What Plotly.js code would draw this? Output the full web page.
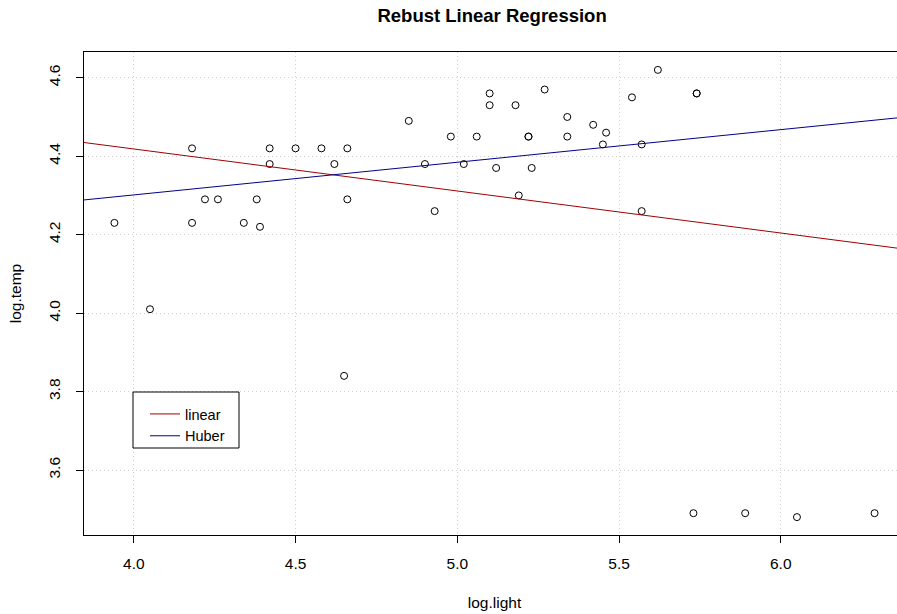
<!DOCTYPE html>
<html>
<head>
<meta charset="utf-8">
<script src="https://cdn.plot.ly/plotly-3.0.1.min.js"></script>
<style>
html,body{margin:0;padding:0;overflow:hidden;background:#fff;width:897px;height:614px;}
#chart{width:925px;height:614px;}
</style>
</head>
<body>
<div id="chart"></div>
<script>
// starsCYG data
const logLight = [5.23,5.74,4.93,5.74,5.19,5.46,4.65,5.27,5.57,5.12,5.73,5.45,5.42,4.05,4.26,4.58,3.94,4.18,4.18,5.89,4.38,4.22,4.42,4.85,5.02,4.66,4.66,4.90,4.39,6.05,4.42,5.10,5.22,6.29,4.34,5.62,5.10,5.22,5.18,5.57,4.62,5.06,5.34,5.34,5.54,4.98,4.50];
const logTemp  = [4.37,4.56,4.26,4.56,4.30,4.46,3.84,4.57,4.26,4.37,3.49,4.43,4.48,4.01,4.29,4.42,4.23,4.42,4.23,3.49,4.29,4.29,4.42,4.49,4.38,4.42,4.29,4.38,4.22,3.48,4.38,4.56,4.45,3.49,4.23,4.62,4.53,4.45,4.53,4.43,4.38,4.45,4.50,4.45,4.55,4.45,4.42];
const seriesNames = ["linear","Huber"];
// Huber fit coefficients [intercept, slope]
const huberCoef = [3.9685, 0.0832];
const xTicks = [4.0,4.5,5.0,5.5,6.0];
const yTicks = [3.6,3.8,4.0,4.2,4.4,4.6];

function ols(x,y){
  const n=x.length;let sx=0,sy=0;
  for(let i=0;i<n;i++){sx+=x[i];sy+=y[i];}
  const mx=sx/n,my=sy/n;let sxy=0,sxx=0;
  for(let i=0;i<n;i++){sxy+=(x[i]-mx)*(y[i]-my);sxx+=(x[i]-mx)*(x[i]-mx);}
  const b=sxy/sxx;return [my-b*mx,b];
}
const lin = ols(logLight,logTemp);
const xmin=Math.min(...logLight),xmax=Math.max(...logLight);
const ymin=Math.min(...logTemp),ymax=Math.max(...logTemp);
const xr=[xmin-0.04*(xmax-xmin),xmax+0.04*(xmax-xmin)];
const yr=[ymin-0.04*(ymax-ymin),ymax+0.04*(ymax-ymin)];

const FONT='Liberation Sans, Arial, Helvetica, sans-serif';
const traces=[
 {x:logLight,y:logTemp,type:'scatter',mode:'markers',showlegend:false,
  marker:{symbol:'circle-open',size:7,color:'#000',line:{width:1,color:'#000'}}},
 {x:xr,y:xr.map(v=>lin[0]+lin[1]*v),type:'scatter',mode:'lines',name:seriesNames[0],line:{color:'#a00000',width:1}},
 {x:xr,y:xr.map(v=>huberCoef[0]+huberCoef[1]*v),type:'scatter',mode:'lines',name:seriesNames[1],line:{color:'#00008B',width:1}}
];
const axisCommon={showline:true,mirror:true,linecolor:'#000',linewidth:1,ticks:'outside',ticklen:7,tickcolor:'#000',
  showgrid:true,gridcolor:'#cfcfcf',griddash:'1px,3px',gridwidth:1,zeroline:false,
  tickfont:{family:FONT,size:15.5,color:'#000'}};
const layout={
  width:925,height:614,
  margin:{l:84,r:20,t:52,b:79},
  paper_bgcolor:'#fff',plot_bgcolor:'#fff',
  font:{family:FONT,color:'#000'},
  title:{text:'<b>Rebust Linear Regression</b>',font:{size:18.5,color:'#000',family:FONT},
    x:0.532,xref:'container',xanchor:'center',y:1-15.5/614,yref:'container',yanchor:'middle'},
  xaxis:Object.assign({},axisCommon,{range:xr,tickvals:xTicks,ticktext:xTicks.map(v=>v.toFixed(1)),ticklabelstandoff:7,
    title:{text:'log.light',font:{size:15.5,family:FONT},standoff:26}}),
  yaxis:Object.assign({},axisCommon,{range:yr,tickvals:yTicks,ticktext:yTicks.map(v=>v.toFixed(1)),tickangle:-90,ticklabelstandoff:10,
    title:{text:'log.temp',font:{size:15.5,family:FONT},standoff:20}}),
  showlegend:true,
  legend:{x:(145-84)/821,y:(535-398)/483,xanchor:'left',yanchor:'top',borderwidth:0,bgcolor:'rgba(0,0,0,0)',
    font:{size:14.5,color:'#000',family:FONT},tracegroupgap:0,itemwidth:30},
  shapes:[{type:'rect',xref:'paper',yref:'paper',x0:(133-84)/821,x1:(239-84)/821,y0:(535-448)/483,y1:(535-392)/483,
    line:{color:'#000',width:1},fillcolor:'#fff',layer:'above'}]
};
Plotly.newPlot('chart',traces,layout,{displayModeBar:false,staticPlot:true});
</script>
</body>
</html>
